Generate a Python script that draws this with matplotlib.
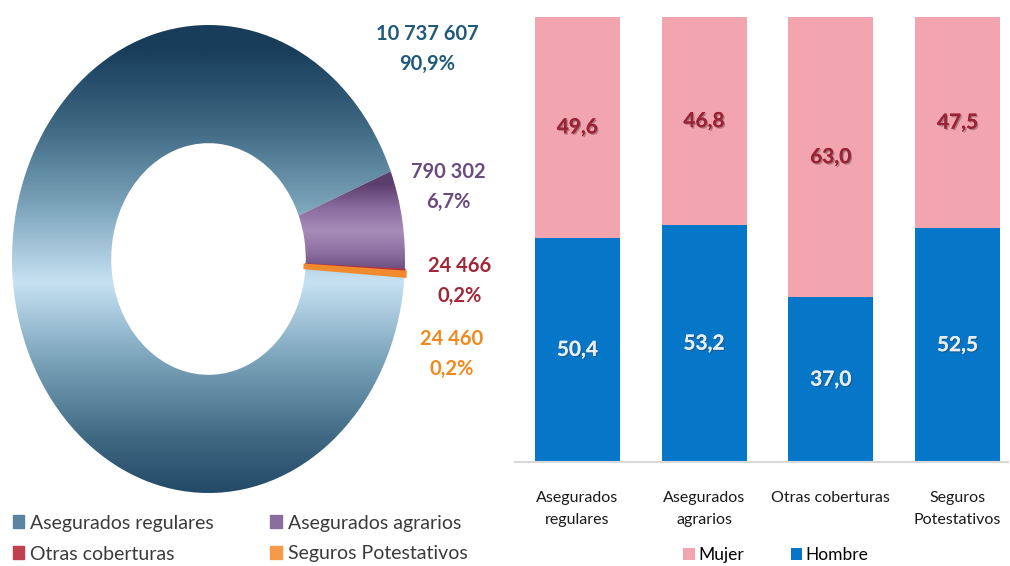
import numpy as np
import matplotlib
matplotlib.use("Agg")
import matplotlib.pyplot as plt
from matplotlib.colors import LinearSegmentedColormap
from matplotlib.patches import Patch
import matplotlib.patheffects as pe

plt.rcParams['font.family'] = ['Lato', 'DejaVu Sans']

# datos del anillo
tipos = ['Asegurados regulares', 'Asegurados agrarios', 'Otras coberturas', 'Seguros Potestativos']
afiliados = [10737607, 790302, 24466, 24460]
etiquetas = ['10 737 607\n90,9%', '790 302\n6,7%', '24 466\n0,2%', '24 460\n0,2%']

# datos de las barras (porcentaje por sexo)
categorias = ['Asegurados\nregulares', 'Asegurados\nagrarios', 'Otras coberturas', 'Seguros\nPotestativos']
hombre = [50.4, 53.2, 37.0, 52.5]
mujer = [49.6, 46.8, 63.0, 47.5]

W, H = 1010, 566
fig = plt.figure(figsize=(W / 100, H / 100), dpi=100)

# ---- anillo ----
ax1 = fig.add_axes([12 / W, (H - 493) / H, 393 / W, 468 / H])
wedges, _ = ax1.pie(afiliados, radius=1, startangle=-4.1, counterclock=False,
                    wedgeprops=dict(width=0.505, linewidth=0))
ax1.set_aspect('auto')
ax1.axis('off')

yy = np.linspace(-1, 1, 400).reshape(-1, 1)

cm_reg = LinearSegmentedColormap.from_list('reg', ['#c6e1f2', '#7aa3ba', '#3f6883', '#173d5a'])
t = np.clip(np.abs(yy + 0.1) / 1.0, 0, 1)
im = ax1.imshow(t, extent=[-1, 1, -1, 1], origin='lower', aspect='auto', cmap=cm_reg, vmin=0, vmax=1)
im.set_clip_path(wedges[0])
wedges[0].set_facecolor('none')

cm_agr = LinearSegmentedColormap.from_list('agr', ['#a78cba', '#8a6c9e', '#5b3f6e'])
t2 = np.clip(np.abs(yy - 0.12) / 0.2, 0, 1)
im2 = ax1.imshow(t2, extent=[-1, 1, -1, 1], origin='lower', aspect='auto', cmap=cm_agr, vmin=0, vmax=1)
im2.set_clip_path(wedges[1])
wedges[1].set_facecolor('none')

wedges[2].set_facecolor('#b3303f')
wedges[2].set_edgecolor('#b3303f')
wedges[2].set_linewidth(1.2)
wedges[3].set_facecolor('#f8b67a')
wedges[3].set_edgecolor('#f08a2c')
wedges[3].set_linewidth(3)
ax1.set_xlim(-1, 1)
ax1.set_ylim(-1, 1)

col_lab = ['#1f5a7c', '#6a4b80', '#a32638', '#f0891e']
pos_lab = [(427, 49), (448, 187), (460, 281), (452, 354)]
for txt, c, (px, py) in zip(etiquetas, col_lab, pos_lab):
    fig.text(px / W, 1 - py / H, txt, ha='center', va='center', color=c,
             fontsize=14.5, fontweight='bold', linespacing=1.6)

fig.legend([Patch(color='#5a84a0'), Patch(color='#c0404f'),
            Patch(color='#8a6ea0'), Patch(color='#f59a4a')],
           [tipos[0], tipos[2], tipos[1], tipos[3]],
           ncol=2, frameon=False, loc='upper left',
           bbox_to_anchor=(-5 / W, 1 - 497 / H), fontsize=14,
           handlelength=0.6, handleheight=0.6, handletextpad=0.3,
           columnspacing=2.9, labelspacing=0.72, labelcolor='#3b3b3b')

# ---- barras ----
ax2 = fig.add_axes([515 / W, (H - 462) / H, (1008 - 515) / W, (462 - 17) / H])
x = np.arange(len(categorias))
b1 = ax2.bar(x, hombre, width=0.67, color='#0676c9', label='Hombre')
b2 = ax2.bar(x, mujer, width=0.67, bottom=hombre, color='#f2a5ae', label='Mujer')
ax2.set_xlim(-0.492, 3.398)
ax2.set_ylim(0, 100)
for s in ['top', 'right', 'left']:
    ax2.spines[s].set_visible(False)
ax2.spines['bottom'].set_color('#d9d9d9')
ax2.spines['bottom'].set_linewidth(1.5)
ax2.set_yticks([])
ax2.set_xticks(x)
ax2.set_xticklabels(categorias, fontsize=11.5, color='#1a1a1a', linespacing=1.7)
ax2.tick_params(axis='x', length=0, pad=21)

fmt = lambda v: f"{v:.1f}".replace('.', ',')
sombra = [pe.withSimplePatchShadow(offset=(1, -1), shadow_rgbFace='#404040', alpha=0.4), pe.Normal()]
for t_ in ax2.bar_label(b1, labels=[fmt(v) for v in hombre], label_type='center',
                        color='#e8eef4', fontsize=15, fontweight='bold'):
    t_.set_path_effects(sombra)
for t_ in ax2.bar_label(b2, labels=[fmt(v) for v in mujer], label_type='center',
                        color='#9b2335', fontsize=15, fontweight='bold'):
    t_.set_path_effects(sombra)

fig.legend([b2, b1], ['Mujer', 'Hombre'], ncol=2, frameon=False, loc='center',
           bbox_to_anchor=(776 / W, 1 - 555 / H), fontsize=12.5,
           handlelength=0.65, handleheight=0.65, handletextpad=0.2,
           columnspacing=2.7)

fig.savefig('out.png', dpi=100)
